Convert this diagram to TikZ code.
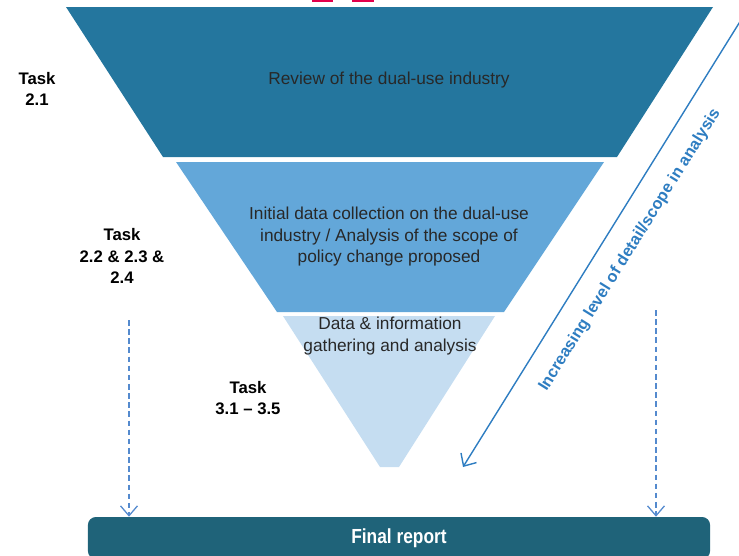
\documentclass[tikz,border=0pt]{standalone}
\usepackage{fontspec}
\setmainfont{Liberation Sans}
\newfontfamily\narrowfont[FakeStretch=0.85]{Liberation Sans}
\usetikzlibrary{arrows.meta, positioning}
\definecolor{revblue}{RGB}{36,118,158}
\definecolor{midblue}{RGB}{99,167,217}
\definecolor{paleblue}{RGB}{197,221,241}
\definecolor{reportteal}{RGB}{31,99,121}
\definecolor{arrowblue}{RGB}{46,125,193}
\definecolor{dashblue}{RGB}{84,138,206}
\definecolor{markred}{RGB}{226,0,75}
\definecolor{stageink}{RGB}{40,40,40}

\tikzset{
	stagetext/.style={align=center, text=stageink, font=\fontsize{12.3}{15.3}\selectfont},
	tasklabel/.style={align=center, font=\bfseries\fontsize{11.9}{15}\selectfont},
	feed/.style={dashblue, line width=0.9pt, dash pattern=on 4pt off 2.5pt, -{Straight Barb[length=7pt,width=12pt]}},
	scopearrow/.style={arrowblue, line width=1pt, -{Straight Barb[length=7pt,width=13pt]}},
}

\begin{document}
\begin{tikzpicture}[x=0.025cm, y=-0.025cm]
			\useasboundingbox (0,0) rectangle (739,555);
			\clip (0,0) rectangle (739,555);
			% red marks on the top edge
			\fill[markred] (312,-1) rectangle (333,2);
			\fill[markred] (352,-1) rectangle (374,2);
			% Review stage
			\fill[revblue] (66,7) -- (713,7) -- (617,157) -- (163,157) -- cycle;
			\node[stagetext] (review) at (389,80) {Review of the dual-use industry};
			% Initial data collection stage
			\fill[midblue] (176,162) -- (604,162) -- (504,312) -- (277,312) -- cycle;
			\node[stagetext] (initial) at (389,237) {Initial data collection on the dual-use\\industry / Analysis of the scope of\\policy change proposed};
			% Data gathering stage
			\fill[paleblue] (283,316) -- (495,316) -- (399,467) -- (380,467) -- cycle;
			\node[stagetext] (gather) at (390,336) {Data \& information\\gathering and analysis};
			% Task labels
			\node[tasklabel] (task21) at (37,89) {Task\\2.1};
			\node[tasklabel] (task22) at (122,256) {Task\\2.2 \& 2.3 \&\\2.4};
			\node[tasklabel] (task31) at (248,398) {Task\\3.1 -- 3.5};
			% Final report
			\node[fill=reportteal, rounded corners=0.2cm, minimum width=15.55cm, minimum height=1.05cm,
				text=white, font=\narrowfont\bfseries\fontsize{14.5}{17}\selectfont] (report) at (399,538) {Final report};
			% Dashed feeds into the report
			\coordinate (leftfeed) at (129,320);
			\coordinate (rightfeed) at (656,310);
			\draw[feed] (leftfeed) -- (leftfeed |- report.north);
			\draw[feed] (rightfeed) -- (rightfeed |- report.north);
			% Scope arrow
			\coordinate (scopetop) at (741,20);
			\coordinate (scopetip) at (463,467);
			\draw[scopearrow] (scopetop) -- (scopetip);
			\node[rotate=58.1, text=arrowblue, font=\bfseries\fontsize{11.6}{14}\selectfont] (scope) at (630,250) {Increasing level of detail/scope in analysis};
\end{tikzpicture}
\end{document}
